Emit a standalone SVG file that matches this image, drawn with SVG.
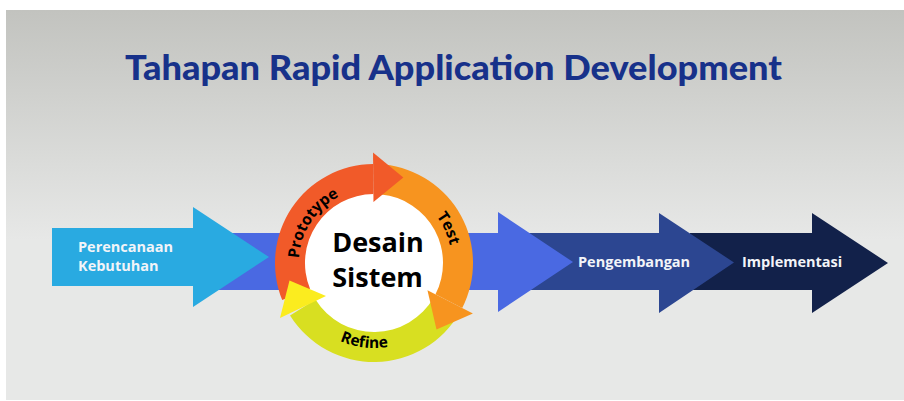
<svg xmlns="http://www.w3.org/2000/svg" width="904" height="401" viewBox="0 0 904 401">
  <defs>
    <linearGradient id="bg" x1="0" y1="10" x2="0" y2="240" gradientUnits="userSpaceOnUse">
      <stop offset="0" stop-color="#c2c3bf"/>
      <stop offset="1" stop-color="#e7e8e7"/>
    </linearGradient>
    <path id="pPrototype" d="M 305.82 294.78 A 75 75 0 0 1 375.31 188.01"/>
    <path id="pTest" d="M 400.68 189.70 A 78 78 0 0 1 447.30 289.68"/>
    <path id="pRefine" d="M 300.39 305.5 A 85 85 0 0 0 435.14 322.05"/>
  </defs>
  <style>
    .lbl { font-family: "Open Sans", "Liberation Sans", sans-serif; font-weight: bold; }
    .arrowtxt { font-size: 14.5px; fill: #f2f4f8; }
    .ringtxt { font-size: 15.5px; fill: #000000; }
    .center { font-size: 27px; fill: #000000; text-anchor: middle; }
  </style>

  <rect x="0" y="0" width="904" height="401" fill="#ffffff"/>
  <rect id="panel" x="6" y="10" width="898" height="390" fill="url(#bg)"/>

  <g id="title">
    <text x="125" y="80" textLength="657" lengthAdjust="spacingAndGlyphs" font-family="Lato, 'Liberation Sans', sans-serif" font-weight="900" font-size="34" fill="#17318a">Tahapan Rapid Application Development</text>
  </g>

  <g id="node-implementasi">
    <polygon points="690,233 812,233 812,213 888,263 812,313 812,290 690,290" fill="#12214a"/>
    <text class="lbl arrowtxt" x="742" y="267">Implementasi</text>
  </g>

  <g id="node-pengembangan">
    <polygon points="520,233 659,233 659,213 734,262.5 659,313 659,290 520,290" fill="#2c4691"/>
  </g>

  <g id="connectors">
    <polygon points="200,233 498,233 498,212 573,262 498,312 498,290 200,290" fill="#4a69e2"/>
  </g>

  <g id="node-pengembangan-label">
    <text class="lbl arrowtxt" x="578" y="267">Pengembangan</text>
  </g>

  <g id="node-perencanaan">
    <polygon points="52,228 193,228 193,207 269,257 193,307 193,286 52,286" fill="#29aae1"/>
    <text class="lbl arrowtxt" x="78" y="252">Perencanaan</text>
    <text class="lbl arrowtxt" x="78" y="271">Kebutuhan</text>
  </g>

  <g id="node-desain-sistem">
    <circle cx="374" cy="263" r="70" fill="#ffffff"/>
    <g id="cycle-refine">
      <path d="M 459.74 312.5 A 99 99 0 0 1 290.04 315.46 L 315.48 299.56 A 69 69 0 0 0 433.76 297.5 Z" fill="#d8df21"/>
    </g>
    <g id="cycle-prototype">
      <path d="M 282.21 300.09 A 99 99 0 0 1 373.14 164.00 L 373.40 194.00 A 69 69 0 0 0 310.02 288.85 Z" fill="#f15a29"/>
    </g>
    <g id="cycle-test">
      <path d="M 384.35 164.54 A 99 99 0 0 1 462.21 307.95 L 435.48 294.33 A 69 69 0 0 0 381.21 194.38 Z" fill="#f7941f"/>
      <polygon points="427.46,290.24 472.90,313.39 436.5,329.5" fill="#f7941f"/>
    </g>
    <polygon points="373.47,202 373.03,152.5 403.3,177.5" fill="#f15a29"/>
    <polygon points="326,296 280,318 289.5,280.5" fill="#fbec1f"/>
    <text class="lbl ringtxt"><textPath href="#pPrototype" startOffset="50%" text-anchor="middle">Prototype</textPath></text>
    <text class="lbl ringtxt"><textPath href="#pTest" startOffset="50%" text-anchor="middle">Test</textPath></text>
    <text class="lbl ringtxt"><textPath href="#pRefine" startOffset="50%" text-anchor="middle">Refine</textPath></text>
    <text class="lbl center" x="378" y="252">Desain</text>
    <text class="lbl center" x="377.5" y="287">Sistem</text>
  </g>
</svg>
